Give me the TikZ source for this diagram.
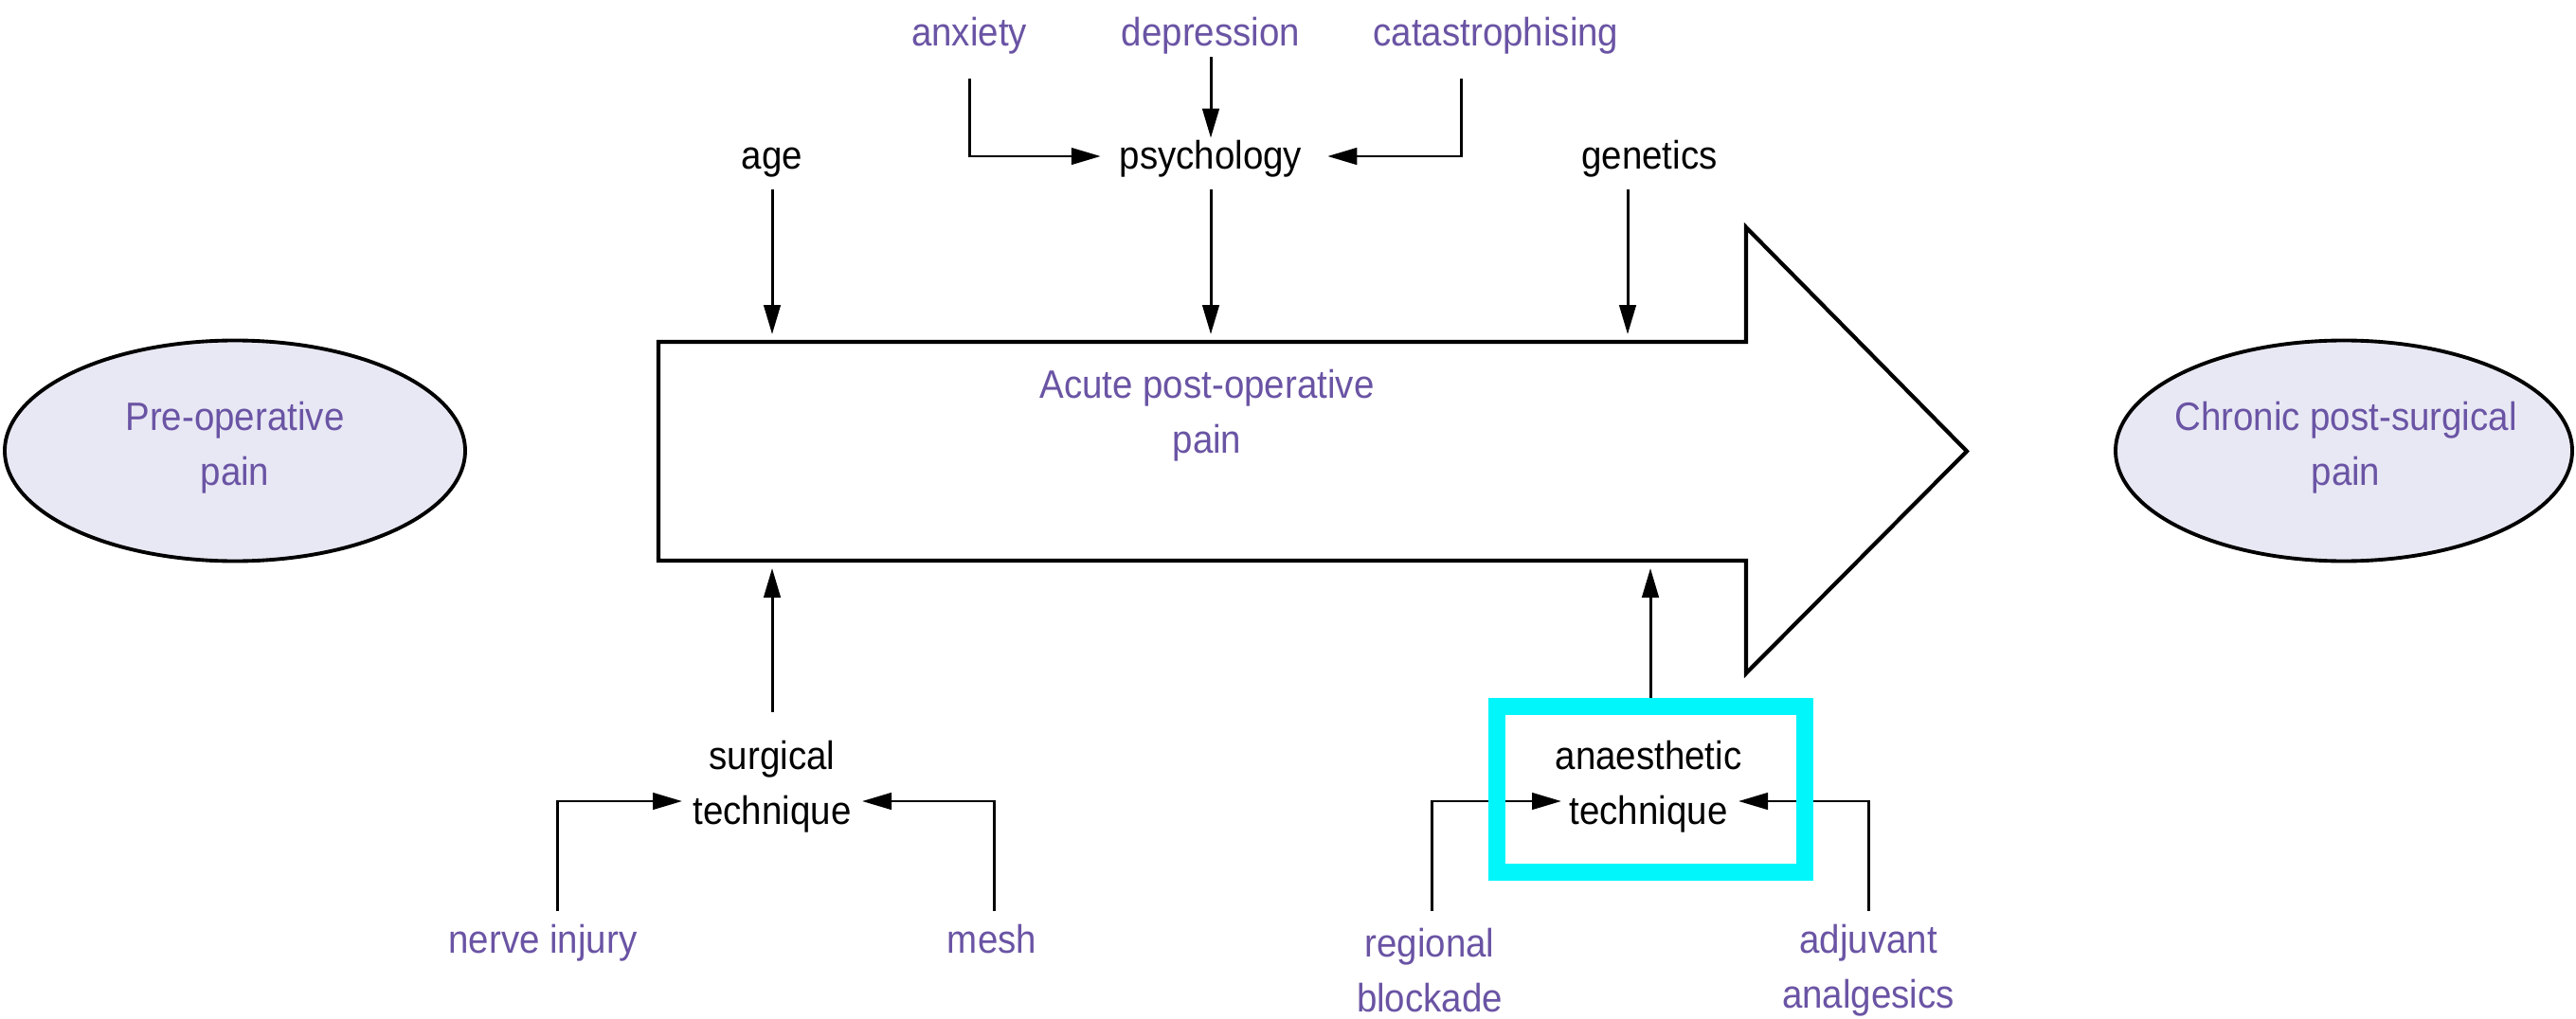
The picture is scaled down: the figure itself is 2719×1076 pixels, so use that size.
\documentclass[tikz,border=0pt]{standalone}
\usepackage{fontspec}
\setmainfont{Liberation Sans}[FakeStretch=0.92]
\usetikzlibrary{arrows.meta,shapes.geometric,calc}
\definecolor{txtpurple}{RGB}{106,84,164}
\definecolor{ellfill}{RGB}{232,232,244}
\definecolor{hlcyan}{RGB}{0,246,250}
\begin{document}
\begin{tikzpicture}[x=0.1mm,y=-0.1mm,
  every node/.style={font=\fontsize{11.9}{16.5}\selectfont, inner sep=0pt, outer sep=0pt},
  lbl/.style={text height=9.4pt, text depth=1.6pt},
  lbltwo/.style={align=center},
  pur/.style={text=txtpurple},
  conn/.style={draw=black, line width=0.85pt, -{Triangle[length=3.1mm,width=1.75mm]}},
  oval/.style={ellipse, draw=black, line width=1.1pt, fill=ellfill, minimum height=23.3mm},
  bigarrow/.style={draw=black, line width=1.2pt, fill=white},
  hlbox/.style={draw=hlcyan, line width=1.75mm, minimum width=32.5mm, minimum height=17.5mm}
]
\fill[white] (0,0) rectangle (2719,1076);
\useasboundingbox (0,0) rectangle (2719,1076);

% ellipses
\node[oval, minimum width=48.6mm] (pre) at (248,476) {};
\node[lbltwo,pur] (prelbl) at (248,473) {Pre-operative\\pain};
\node[oval, minimum width=48.2mm] (chronic) at (2474,476) {};
\node[lbltwo,pur] (chroniclbl) at (2476,473) {Chronic post-surgical\\pain};

% big arrow
\node[minimum width=114.8mm, minimum height=23.1mm] (shaft) at (1269,476.5) {};
\draw[bigarrow] (shaft.north west) -- (shaft.north east)
  -- ($(shaft.north east)+(0,-121)$) -- ($(shaft.east)+(233,0)$)
  -- ($(shaft.south east)+(0,119)$) -- (shaft.south east)
  -- (shaft.south west) -- cycle;
\node[lbltwo,pur] (acute) at (1274,439) {Acute post-operative\\pain};

% top labels
\node[lbl,pur] (anx) at (1023,35) {anxiety};
\node[lbl,pur] (dep) at (1278,35) {depression};
\node[lbl,pur] (cat) at (1579,35) {catastrophising};
\node[lbl] (age) at (815,165) {age};
\node[lbl] (psy) at (1278,165) {psychology};
\node[lbl] (gen) at (1741,165) {genetics};

% bottom labels
\node[lbltwo] (surg) at (815,831) {surgical\\technique};
\node[lbltwo] (anae) at (1740,831) {anaesthetic\\technique};
\node[lbl,pur] (nerve) at (573,993) {nerve injury};
\node[lbl,pur] (mesh) at (1047,993) {mesh};
\node[lbltwo,pur] (reg) at (1509,1025) {regional\\blockade};
\node[lbltwo,pur] (adj) at (1972,1025) {adjuvant\\analgesics};

% top connectors
\draw[conn, shorten <=0.6mm] (dep.south) -- (psy.north);
\draw[conn, shorten <=2.9mm, shorten >=2mm] (anx.south) |- (psy.west);
\draw[conn, shorten >=2.7mm] ($(cat.south)+(-37,29)$) |- (psy.east);
\draw[conn, shorten <=1.6mm, shorten >=0.8mm] (age.south) -- (age.south |- shaft.north);
\draw[conn, shorten <=1.6mm, shorten >=0.8mm] (psy.south) -- (psy.south |- shaft.north);
\draw[conn, shorten >=0.8mm] ($(gen.south)+(-23,16)$) -- ($(gen.south |- shaft.north)+(-23,0)$);

% bottom connectors
\draw[conn, shorten >=0.8mm] ($(surg.center)+(0,-79)$) -- (surg.center |- shaft.south);
\draw[conn] ($(nerve.center)+(15,-31)$) |- ($(surg.center)+(-95,15)$);
\draw[conn] ($(mesh.center)+(2,-31)$) |- ($(surg.center)+(95,15)$);
\draw[conn, shorten >=0.8mm] ($(anae.center)+(2,-79)$) -- ($(anae.center |- shaft.south)+(2,0)$);
\draw[conn] ($(reg.center)+(2,-63)$) |- ($(anae.center)+(-92,15)$);
\draw[conn] ($(adj.center)+(0,-63)$) |- ($(anae.center)+(95,15)$);

% highlight box
\node[hlbox] (hl) at (1742.5,833.5) {};
\end{tikzpicture}
\end{document}
